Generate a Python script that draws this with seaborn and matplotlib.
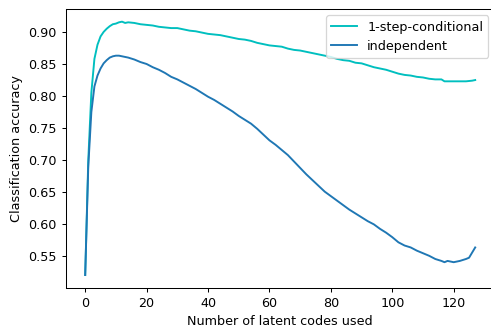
import matplotlib
matplotlib.use("Agg")
import matplotlib.pyplot as plt
import seaborn as sns
import pandas as pd

cond_x = [0, 1, 2, 3, 4, 5, 6, 7, 8, 9, 10, 11, 12, 13, 14, 16, 18, 20, 22, 24, 26, 28, 30,
          32, 34, 36, 38, 40, 42, 44, 46, 48, 50, 52, 54, 56, 58, 60, 62, 64, 66, 68, 70,
          72, 74, 76, 78, 80, 82, 84, 86, 88, 90, 92, 94, 96, 98, 100, 102, 104, 106, 108,
          110, 112, 114, 116, 117, 118, 120, 122, 124, 126, 127]
cond_y = [0.521, 0.700, 0.805, 0.858, 0.880, 0.893, 0.900, 0.905, 0.909, 0.912, 0.913, 0.915,
          0.916, 0.914, 0.915, 0.914, 0.912, 0.911, 0.910, 0.908, 0.907, 0.906, 0.906, 0.904,
          0.902, 0.901, 0.899, 0.897, 0.896, 0.895, 0.893, 0.891, 0.889, 0.888, 0.886, 0.883,
          0.881, 0.879, 0.878, 0.877, 0.874, 0.872, 0.871, 0.869, 0.867, 0.865, 0.863, 0.861,
          0.858, 0.856, 0.855, 0.852, 0.851, 0.848, 0.845, 0.843, 0.841, 0.838, 0.835, 0.833,
          0.832, 0.830, 0.829, 0.827, 0.826, 0.826, 0.823, 0.823, 0.823, 0.823, 0.823, 0.824,
          0.825]

ind_x = [0, 1, 2, 3, 4, 5, 6, 7, 8, 9, 10, 11, 12, 13, 14, 16, 18, 20, 22, 24, 26, 28, 30,
         32, 34, 36, 38, 40, 42, 44, 46, 48, 50, 52, 54, 56, 58, 60, 62, 64, 66, 68, 70,
         72, 74, 76, 78, 80, 82, 84, 86, 88, 90, 92, 94, 96, 98, 100, 102, 104, 106, 108,
         110, 112, 114, 116, 117, 118, 120, 122, 124, 125, 126, 127]
ind_y = [0.521, 0.690, 0.775, 0.815, 0.832, 0.843, 0.851, 0.856, 0.860, 0.862, 0.863, 0.863,
         0.862, 0.861, 0.860, 0.857, 0.853, 0.850, 0.845, 0.841, 0.836, 0.830, 0.826, 0.821,
         0.816, 0.811, 0.805, 0.799, 0.794, 0.788, 0.782, 0.776, 0.769, 0.763, 0.757, 0.749,
         0.740, 0.731, 0.724, 0.716, 0.708, 0.698, 0.688, 0.678, 0.669, 0.660, 0.651, 0.644,
         0.637, 0.630, 0.623, 0.617, 0.611, 0.605, 0.600, 0.593, 0.587, 0.580, 0.572, 0.567,
         0.564, 0.559, 0.555, 0.551, 0.546, 0.543, 0.541, 0.543, 0.541, 0.543, 0.546, 0.548,
         0.556, 0.564]

labels = ["1-step-conditional", "independent"]
colors = ["#00bfbf", "#1f77b4"]

df = pd.concat([
    pd.DataFrame({"x": cond_x, "y": cond_y, "method": labels[0]}),
    pd.DataFrame({"x": ind_x, "y": ind_y, "method": labels[1]}),
])

DPI = 92
fig = plt.figure(figsize=(491 / DPI, 333 / DPI), dpi=DPI)
ax = fig.add_axes([65.7 / 491, 45.3 / 333, (494.7 - 65.7) / 491, (287.7 - 9) / 333])
sns.lineplot(data=df, x="x", y="y", hue="method", palette=dict(zip(labels, colors)),
             ax=ax, linewidth=1.5)
ax.set_xlabel("Number of latent codes used")
ax.set_ylabel("Classification accuracy")
ax.set_xticks([0, 20, 40, 60, 80, 100, 120])
yt = [0.55, 0.60, 0.65, 0.70, 0.75, 0.80, 0.85, 0.90]
ax.set_yticks(yt)
ax.set_yticklabels([f"{v:.2f}" for v in yt])
ax.margins(x=0.05, y=0.05)
handles, labs = ax.get_legend_handles_labels()
ax.legend(handles, labs, loc="upper right", title=None)
fig.savefig("out.png", dpi=DPI)
